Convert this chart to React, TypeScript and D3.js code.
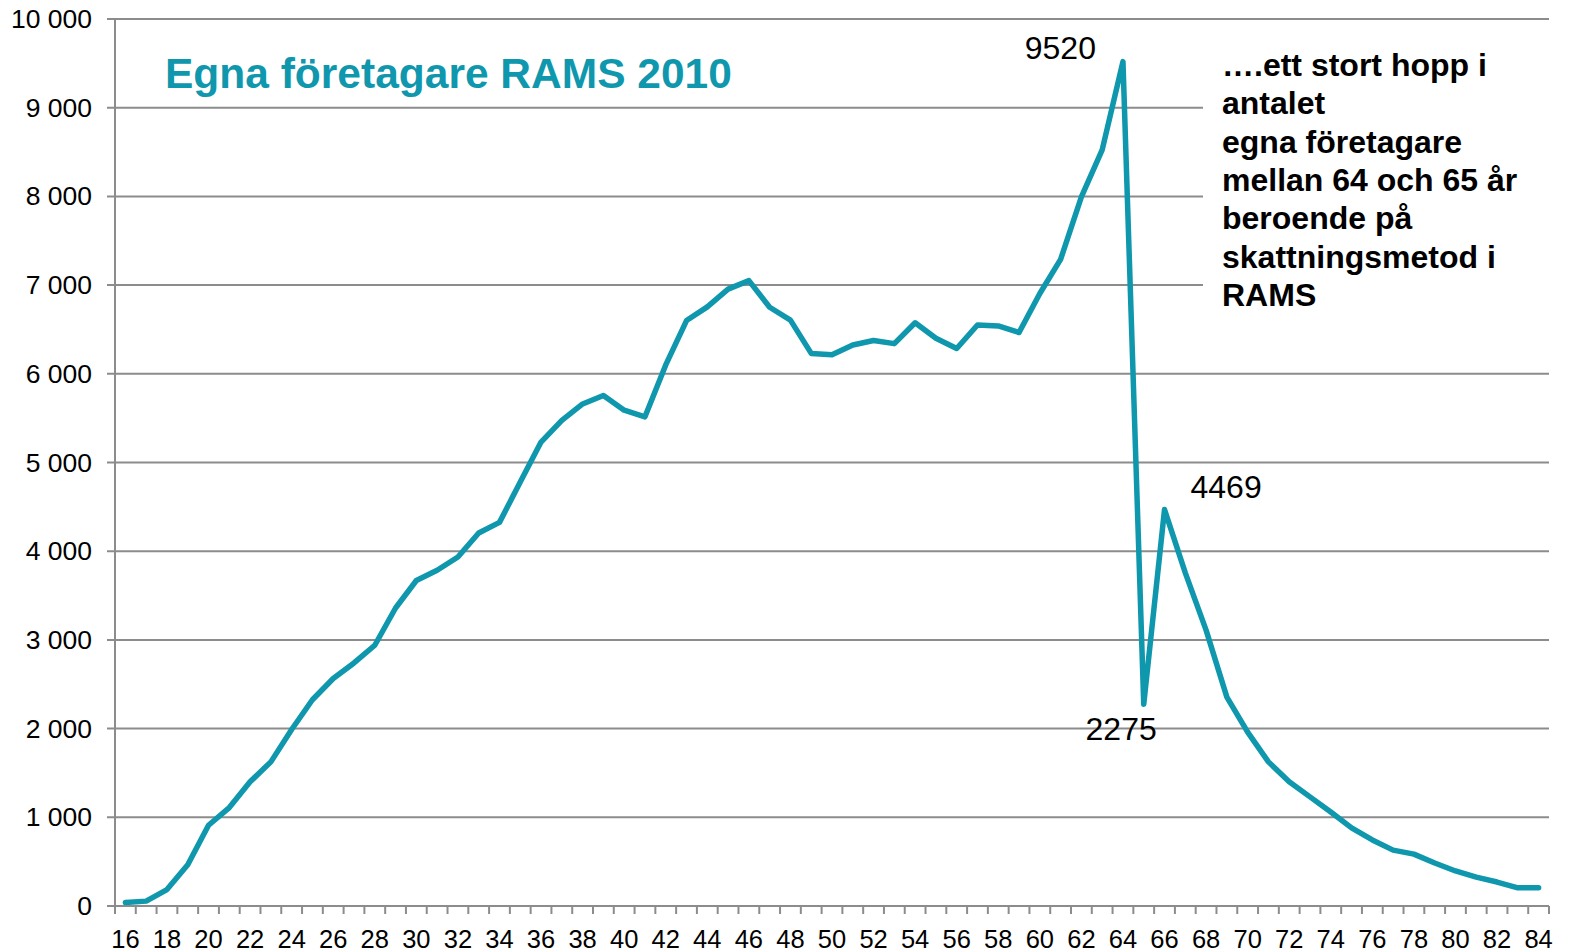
import React from 'react';
import { scaleBand, scaleLinear, line } from 'd3';

const width = 1569;
const height = 952;
const plotLeft = 115;
const plotRight = 1549;
const plotTop = 19;
const plotBottom = 906;

const teal = '#0f97ad';
const gridColor = '#8c8c8c';
const font = '"Liberation Sans", Arial, sans-serif';

const ages = [
  16, 17, 18, 19, 20, 21, 22, 23, 24, 25, 26, 27, 28, 29, 30, 31, 32, 33, 34, 35,
  36, 37, 38, 39, 40, 41, 42, 43, 44, 45, 46, 47, 48, 49, 50, 51, 52, 53, 54, 55,
  56, 57, 58, 59, 60, 61, 62, 63, 64, 65, 66, 67, 68, 69, 70, 71, 72, 73, 74, 75,
  76, 77, 78, 79, 80, 81, 82, 83, 84,
];
const counts = [
  40, 55, 185, 465, 910, 1110, 1400, 1625, 1990, 2325, 2565, 2740, 2940, 3360, 3670, 3785, 3935, 4205, 4325, 4780,
  5230, 5475, 5660, 5755, 5590, 5515, 6100, 6600, 6755, 6955, 7050, 6750, 6605, 6230, 6215, 6325, 6375, 6340, 6575, 6400,
  6285, 6550, 6540, 6465, 6905, 7290, 7995, 8525, 9520, 2275, 4469, 3755, 3110, 2355, 1960, 1625, 1400, 1230, 1060, 880,
  745, 630, 585, 485, 395, 325, 270, 205, 205,
];
const yTicks = [0, 1000, 2000, 3000, 4000, 5000, 6000, 7000, 8000, 9000, 10000];
const pointLabels = [
  { age: 64, text: '9520', dx: -27, dy: -3, anchor: 'end' },
  { age: 65, text: '2275', dx: 13, dy: 36, anchor: 'end' },
  { age: 66, text: '4469', dx: 26, dy: -12, anchor: 'start' },
];
const title = 'Egna företagare RAMS 2010';
const noteLines = [
  '….ett stort hopp i',
  'antalet',
  'egna företagare',
  'mellan 64 och 65 år',
  'beroende på',
  'skattningsmetod i',
  'RAMS',
];

const fmt = (v: number) => (v >= 1000 ? `${Math.floor(v / 1000)} ${String(v % 1000).padStart(3, '0')}` : String(v));

const App = () => {
  const x = scaleBand<number>().domain(ages).range([plotLeft, plotRight]);
  const y = scaleLinear().domain([0, 10000]).range([plotBottom, plotTop]);
  const cx = (a: number) => (x(a) as number) + x.bandwidth() / 2;
  const path = line<number>()
    .x((_, i) => cx(ages[i]))
    .y((d) => y(d))(counts);

  return (
    <svg width={width} height={height} style={{ position: 'absolute', left: 0, top: 0, background: '#fff' }}>
      {/* gridlines */}
      {yTicks.map((t) => (
        <g key={t}>
          <line x1={plotLeft - 8} x2={plotRight} y1={y(t)} y2={y(t)} stroke={gridColor} strokeWidth={2} />
          <text x={92} y={y(t) + 9} textAnchor="end" fontFamily={font} fontSize={26.5} fill="#000">
            {fmt(t)}
          </text>
        </g>
      ))}
      {/* box behind note covers some gridlines */}
      <rect x={1203} y={30} width={346} height={320} fill="#fff" />
      <line x1={plotLeft} x2={plotLeft} y1={plotTop} y2={plotBottom} stroke={gridColor} strokeWidth={2} />
      {ages.concat([85]).map((a, i) => {
        const xx = plotLeft + i * x.bandwidth();
        return <line key={a} x1={xx} x2={xx} y1={plotBottom} y2={plotBottom + 8} stroke={gridColor} strokeWidth={2} />;
      })}
      {ages
        .filter((a) => a % 2 === 0)
        .map((a) => (
          <text key={a} x={cx(a)} y={948} textAnchor="middle" fontFamily={font} fontSize={25.5} fill="#000">
            {a}
          </text>
        ))}
      <path d={path || ''} fill="none" stroke={teal} strokeWidth={5.5} strokeLinejoin="round" strokeLinecap="round" />
      {pointLabels.map((p) => (
        <text
          key={p.text}
          x={cx(p.age) + p.dx}
          y={y(counts[ages.indexOf(p.age)]) + p.dy}
          textAnchor={p.anchor}
          fontFamily={font}
          fontSize={32}
          fill="#000"
        >
          {p.text}
        </text>
      ))}
      <text x={165} y={88} fontFamily={font} fontSize={42.5} fontWeight="bold" fill={teal}>
        {title}
      </text>
      {noteLines.map((s, i) => (
        <text key={i} x={1222} y={76 + i * 38.3} fontFamily={font} fontSize={32} fontWeight="bold" fill="#000">
          {s}
        </text>
      ))}
    </svg>
  );
};

export default App;
